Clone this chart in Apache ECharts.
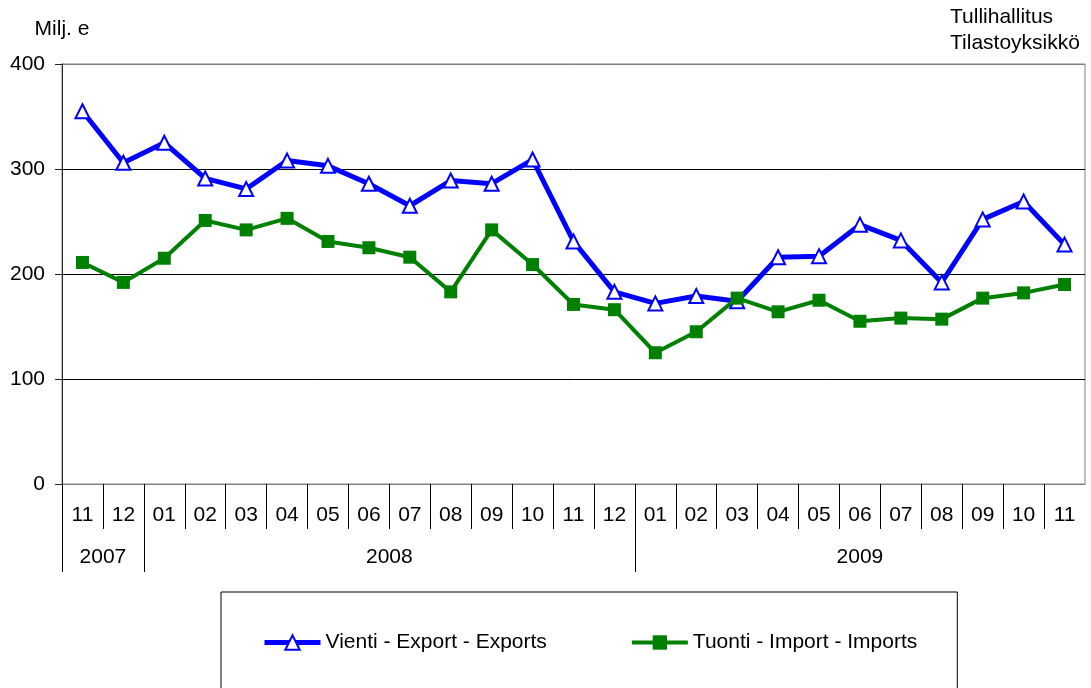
<!DOCTYPE html>
<html>
<head>
<meta charset="utf-8">
<script src="https://cdn.jsdelivr.net/npm/echarts@6/dist/echarts.min.js"></script>
<style>
  html, body { margin: 0; padding: 0; background: #fff; }
  #chart { width: 1091px; height: 688px; }
</style>
</head>
<body>
<div id="chart"></div>
<script>
const periods = ['2007-11', '2007-12', '2008-01', '2008-02', '2008-03', '2008-04', '2008-05', '2008-06',
  '2008-07', '2008-08', '2008-09', '2008-10', '2008-11', '2008-12', '2009-01', '2009-02', '2009-03',
  '2009-04', '2009-05', '2009-06', '2009-07', '2009-08', '2009-09', '2009-10', '2009-11'];
const exportsData = [355, 306, 325, 291, 281, 308, 303, 286, 265, 289, 286, 309, 231,
  183, 172, 179, 174, 216, 217, 247, 232, 192, 252, 269, 228];
const importsData = [211, 192, 215, 251, 242, 253, 231, 225, 216, 183, 242, 209, 171,
  166, 125, 145, 177, 164, 175, 155, 158, 157, 177, 182, 190];
const yTicks = [0, 100, 200, 300, 400];

const font = "'Liberation Sans', Arial, sans-serif";
const fs = 21;
const months = periods.map(p => p.split('-')[1]);

// year groups: start index and length of each year
const yearGroups = [];
periods.forEach((p, i) => {
  const y = p.split('-')[0];
  const last = yearGroups[yearGroups.length - 1];
  if (last && last.year === y) last.count++;
  else yearGroups.push({ year: y, start: i, count: 1 });
});

const chart = echarts.init(document.getElementById('chart'));
chart.setOption({
  animation: false,
  textStyle: { fontFamily: font },
  title: {
    text: 'Tullihallitus\nTilastoyksikkö',
    left: 950, top: 4, padding: 0,
    textStyle: { fontFamily: font, fontSize: fs, fontWeight: 'normal', color: '#000', lineHeight: 26 }
  },
  grid: {
    left: 62, right: 6, top: 64, bottom: 204,
    show: true, borderColor: '#808080', borderWidth: 1
  },
  legend: {
    left: 221, top: 592,
    itemWidth: 56, itemHeight: 18, itemGap: 83,
    padding: [40, 40, 60, 41],
    borderColor: '#000', borderWidth: 1,
    textStyle: { fontFamily: font, fontSize: fs, color: '#000' },
    data: [
      { name: 'Vienti - Export - Exports', lineStyle: { width: 5 },
        itemStyle: { borderWidth: 2 } },
      { name: 'Tuonti - Import - Imports', lineStyle: { width: 4 } }
    ]
  },
  xAxis: [
    {
      type: 'category', data: periods, boundaryGap: true,
      axisLine: { show: true, lineStyle: { color: '#808080' } },
      axisTick: { show: false }, axisLabel: { show: false }
    },
    {
      type: 'value', min: 0, max: periods.length, position: 'bottom',
      axisLine: { show: false }, splitLine: { show: false },
      axisTick: { show: true, length: 45, lineStyle: { color: '#000' },
        customValues: months.map((m, i) => i) },
      axisLabel: { show: true, margin: 21, fontSize: fs, color: '#000', fontFamily: font,
        customValues: months.map((m, i) => i + 0.5),
        formatter: v => months[Math.floor(v)] }
    },
    {
      type: 'value', min: 0, max: periods.length, position: 'bottom',
      axisLine: { show: false }, splitLine: { show: false },
      axisTick: { show: true, length: 88, lineStyle: { color: '#000' },
        customValues: yearGroups.map(g => g.start) },
      axisLabel: { show: true, margin: 63, fontSize: fs, color: '#000', fontFamily: font,
        customValues: yearGroups.map(g => g.start + g.count / 2),
        formatter: v => {
          const g = yearGroups.find(g => g.start + g.count / 2 === v);
          return g ? g.year : '';
        } }
    }
  ],
  yAxis: {
    type: 'value', min: yTicks[0], max: yTicks[yTicks.length - 1], interval: 100,
    name: 'Milj. e', nameLocation: 'end', nameGap: 24,
    nameTextStyle: { fontFamily: font, fontSize: fs, color: '#000', align: 'center' },
    axisLine: { show: true, lineStyle: { color: '#222' } },
    axisTick: { show: true, length: 7, lineStyle: { color: '#222' } },
    axisLabel: { margin: 17, fontSize: fs, color: '#000', fontFamily: font },
    splitLine: { show: true, lineStyle: { color: ['#808080', '#000', '#000', '#000', '#808080'], width: 1 } }
  },
  series: [
    {
      name: 'Vienti - Export - Exports', type: 'line', data: exportsData,
      symbol: 'triangle', symbolSize: 14,
      lineStyle: { color: '#0000ff', width: 5 },
      itemStyle: { color: '#ffffff', borderColor: '#0000ff', borderWidth: 2 }
    },
    {
      name: 'Tuonti - Import - Imports', type: 'line', data: importsData,
      symbol: 'rect', symbolSize: 13,
      lineStyle: { color: '#008000', width: 4 },
      itemStyle: { color: '#008000', borderColor: '#008000', borderWidth: 0 }
    }
  ]
});
</script>
</body>
</html>
